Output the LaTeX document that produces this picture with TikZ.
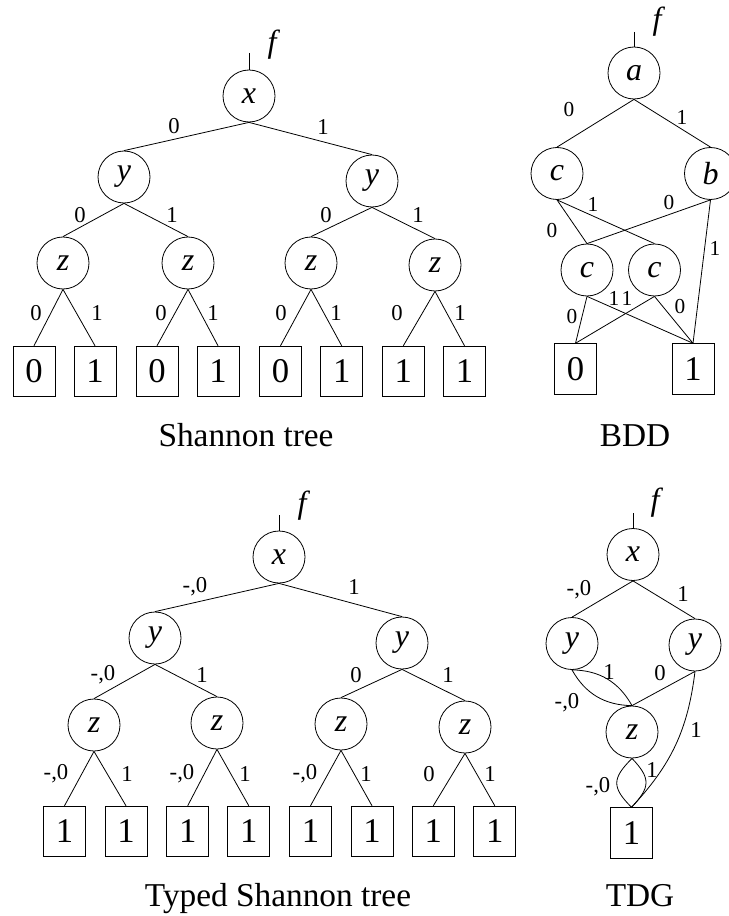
\documentclass[tikz,border=0pt]{standalone}
\usepackage{fontspec}
\setmainfont{Liberation Serif}
\begin{document}
\begin{tikzpicture}[x=0.75pt,y=-0.75pt,line width=0.6pt,
  var/.style={circle,draw,minimum size=39pt,inner sep=0pt,font=\fontsize{24}{28}\selectfont\itshape},
  leaf/.style={rectangle,draw,minimum width=31.5pt,minimum height=38pt,inner sep=0pt,font=\fontsize{26}{30}\selectfont},
  lbl/.style={inner sep=0pt,font=\fontsize{17}{20}\selectfont},
  lblb/.style={inner sep=0pt,font=\fontsize{16}{19}\selectfont},
  flbl/.style={inner sep=0pt,font=\fontsize{24}{28}\selectfont\itshape},
  captext/.style={inner sep=0pt,anchor=base,font=\fontsize{25}{30}\selectfont}]
\useasboundingbox (0,0) rectangle (728,916);

% ---------------- Shannon tree ----------------
\node[var] (sx) at (249,96) {x};
\node[var] (syL) at (124,177) {y};
\node[var] (syR) at (372,181) {y};
\node[var] (sz1) at (63,263) {z};
\node[var] (sz2) at (188,263) {z};
\node[var] (sz3) at (311,263) {z};
\node[var] (sz4) at (435,265) {z};
\node[leaf] (s1) at (34,371.5) {0};
\node[leaf] (s2) at (95,371.5) {1};
\node[leaf] (s3) at (157,371.5) {0};
\node[leaf] (s4) at (218,371.5) {1};
\node[leaf] (s5) at (280.5,371.5) {0};
\node[leaf] (s6) at (341.7,371.5) {1};
\node[leaf] (s7) at (403.3,371.5) {1};
\node[leaf] (s8) at (464.5,371.5) {1};
\coordinate (sf) at (249,53);
\draw (sf) -- (sx.north);
\node[flbl] (sfl) at (272,45) {f};
\draw (sx.south) -- (syL.north);
\draw (sx.south) -- (syR.north);
\draw (syL.south) -- (sz1.north);
\draw (syL.south) -- (sz2.north);
\draw (syR.south) -- (sz3.north);
\draw (syR.south) -- (sz4.north);
\draw (sz1.south) -- (s1.north);
\draw (sz1.south) -- (s2.north);
\draw (sz2.south) -- (s3.north);
\draw (sz2.south) -- (s4.north);
\draw (sz3.south) -- (s5.north);
\draw (sz3.south) -- (s6.north);
\draw (sz4.south) -- (s7.north);
\draw (sz4.south) -- (s8.north);
\node[lbl] (sl1) at (174,126) {0};
\node[lbl] (sl2) at (323,127) {1};
\node[lbl] (sl3) at (80,215) {0};
\node[lbl] (sl4) at (172,215) {1};
\node[lbl] (sl5) at (326,215) {0};
\node[lbl] (sl6) at (418,215) {1};
\node[lbl] (sl7) at (36,313) {0};
\node[lbl] (sl8) at (97,313) {1};
\node[lbl] (sl9) at (161,313) {0};
\node[lbl] (sl10) at (213,313) {1};
\node[lbl] (sl11) at (281,313) {0};
\node[lbl] (sl12) at (336,313) {1};
\node[lbl] (sl13) at (397,313) {0};
\node[lbl] (sl14) at (460,313) {1};
\node[captext] (scap) at (246,446) {Shannon tree};

% ---------------- BDD ----------------
\node[var] (ba) at (634,73) {a};
\node[var] (bc) at (557,173.5) {c};
\node[var] (bb) at (710.5,173.5) {b};
\node[var] (bc1) at (587,270) {c};
\node[var] (bc2) at (654.5,270) {c};
\node[leaf] (b0) at (575.5,369) {0};
\node[leaf] (b1) at (693,369) {1};
\coordinate (bf) at (634,32);
\draw (bf) -- (ba.north);
\node[flbl] (bfl) at (657,22) {f};
\draw (ba.south) -- (bc.north);
\draw (ba.south) -- (bb.north);
\draw (bc.south) -- (bc1.north);
\draw (bc.south) -- (bc2.north);
\draw (bb.south) -- (bc1.north);
\draw (bb.south) -- (b1.north);
\draw (bc1.south) -- (b0.north);
\draw (bc1.south) -- (b1.north);
\draw (bc2.south) -- (b0.north);
\draw (bc2.south) -- (b1.north);
\node[lblb] (bl1) at (569,110) {0};
\node[lblb] (bl2) at (682,117) {1};
\node[lblb] (bl3) at (552,231) {0};
\node[lblb] (bl4) at (593,204) {1};
\node[lblb] (bl5) at (669,203) {0};
\node[lblb] (bl6) at (715,248) {1};
\node[lblb] (bl7) at (572,317) {0};
\node[lblb] (bl8) at (614,298) {1};
\node[lblb] (bl9) at (627,298) {1};
\node[lblb] (bl10) at (680,307) {0};
\node[captext] (bcap) at (635,446) {BDD};

% ---------------- Typed Shannon tree ----------------
\node[var] (tx) at (279,557) {x};
\node[var] (tyL) at (155,638) {y};
\node[var] (tyR) at (402,643) {y};
\node[var] (tz1) at (94,725) {z};
\node[var] (tz2) at (217,723) {z};
\node[var] (tz3) at (341,724) {z};
\node[var] (tz4) at (465,727) {z};
\node[leaf] (t1) at (64.5,831.5) {1};
\node[leaf] (t2) at (126,831.5) {1};
\node[leaf] (t3) at (187.7,831.5) {1};
\node[leaf] (t4) at (248.8,831.5) {1};
\node[leaf] (t5) at (310.5,831.5) {1};
\node[leaf] (t6) at (372,831.5) {1};
\node[leaf] (t7) at (433.3,831.5) {1};
\node[leaf] (t8) at (494.8,831.5) {1};
\coordinate (tf) at (279,515);
\draw (tf) -- (tx.north);
\node[flbl] (tfl) at (302,506) {f};
\draw (tx.south) -- (tyL.north);
\draw (tx.south) -- (tyR.north);
\draw (tyL.south) -- (tz1.north);
\draw (tyL.south) -- (tz2.north);
\draw (tyR.south) -- (tz3.north);
\draw (tyR.south) -- (tz4.north);
\draw (tz1.south) -- (t1.north);
\draw (tz1.south) -- (t2.north);
\draw (tz2.south) -- (t3.north);
\draw (tz2.south) -- (t4.north);
\draw (tz3.south) -- (t5.north);
\draw (tz3.south) -- (t6.north);
\draw (tz4.south) -- (t7.north);
\draw (tz4.south) -- (t8.north);
\node[lbl] (tl1) at (195,587) {-,0};
\node[lbl] (tl2) at (354,587) {1};
\node[lbl] (tl3) at (103,675) {-,0};
\node[lbl] (tl4) at (202,675) {1};
\node[lbl] (tl5) at (356,675) {0};
\node[lbl] (tl6) at (448,675) {1};
\node[lbl] (tl7) at (56,774) {-,0};
\node[lbl] (tl8) at (127,774) {1};
\node[lbl] (tl9) at (182,774) {-,0};
\node[lbl] (tl10) at (245,774) {1};
\node[lbl] (tl11) at (305,774) {-,0};
\node[lbl] (tl12) at (366,774) {1};
\node[lbl] (tl13) at (429,774) {0};
\node[lbl] (tl14) at (490,774) {1};
\node[captext] (tcap) at (278,906) {Typed Shannon tree};

% ---------------- TDG ----------------
\node[var] (dx) at (633,554.5) {x};
\node[var] (dyL) at (572,643.5) {y};
\node[var] (dyR) at (695,645) {y};
\node[var] (dz) at (632,732) {z};
\node[leaf] (dbox) at (631.5,833) {1};
\coordinate (df) at (633,513);
\draw (df) -- (dx.north);
\node[flbl] (dfl) at (655,503) {f};
\draw (dx.south) -- (dyL.north);
\draw (dx.south) -- (dyR.north);
\draw (dyL.south) to[bend left=30] (dz.north);
\draw (dyL.south) to[bend right=30] (dz.north);
\draw (dyR.south) -- (dz.north);
\draw (dyR.south) to[bend left=18] (dbox.north);
\draw (dz.south) .. controls +(-20,20) and +(-20,-20) .. (dbox.north);
\draw (dz.south) .. controls +(19,20) and +(19,-20) .. (dbox.north);
\node[lbl] (dl1) at (579,590) {-,0};
\node[lbl] (dl2) at (683,594) {1};
\node[lbl] (dl3) at (609,672) {1};
\node[lbl] (dl4) at (567,703) {-,0};
\node[lbl] (dl5) at (660,673) {0};
\node[lbl] (dl6) at (696,730) {1};
\node[lbl] (dl7) at (598,787) {-,0};
\node[lbl] (dl8) at (652,770) {1};
\node[captext] (dcap) at (640,906) {TDG};
\end{tikzpicture}
\end{document}
